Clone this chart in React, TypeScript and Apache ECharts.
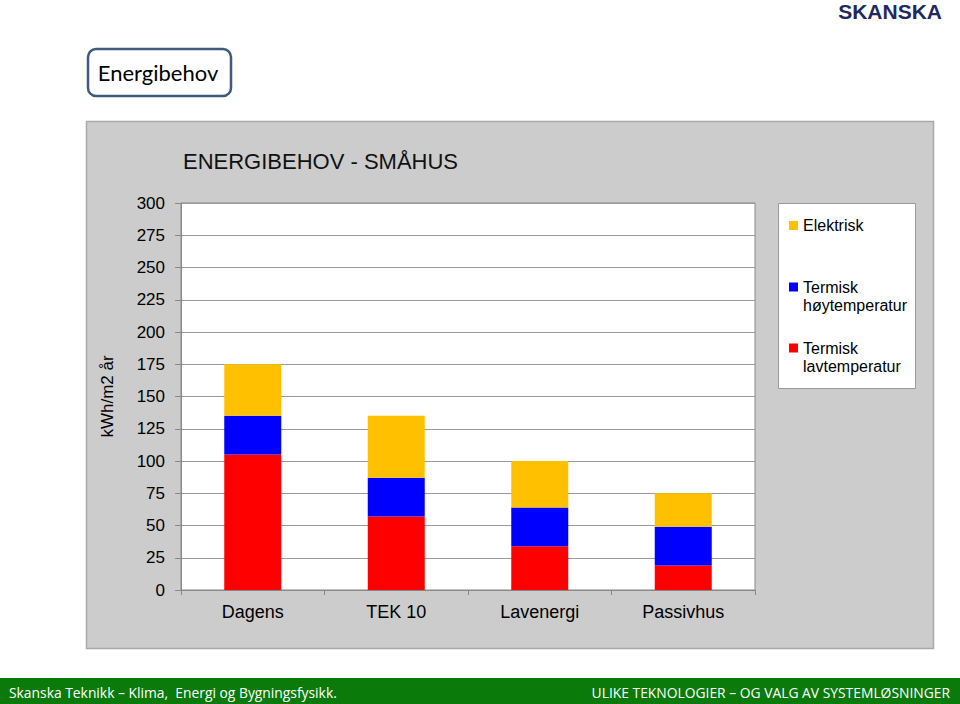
import React, { useEffect, useRef } from "react";
import * as echarts from "echarts";

const categories = ["Dagens", "TEK 10", "Lavenergi", "Passivhus"];
const lavtemperatur = [105, 57, 34, 19];
const hoytemperatur = [30, 30, 30, 30];
const elektrisk = [40, 48, 36, 26];
const seriesNames = ["Termisk lavtemperatur", "Termisk høytemperatur", "Elektrisk"];
const seriesColors = ["#ff0000", "#0000ff", "#ffc000"];
const chartTitle = "ENERGIBEHOV - SMÅHUS";
const yAxisName = "kWh/m2 år";
const slideTitle = "Energibehov";
const footerLeft = "Skanska Teknikk – Klima,  Energi og Bygningsfysikk.";
const footerRight = "ULIKE TEKNOLOGIER – OG VALG AV SYSTEMLØSNINGER";

const FONT = "'Liberation Sans', Arial, sans-serif";
const CAL = "'Open Sans', 'Noto Sans', sans-serif";

export default function App() {
  const ref = useRef<HTMLDivElement>(null);
  useEffect(() => {
    if (!ref.current) return;
    const chart = echarts.init(ref.current, null, { renderer: "svg" });
    const data = [lavtemperatur, hoytemperatur, elektrisk];
    const legendText = {
      fontFamily: FONT,
      fontSize: 16,
      color: "#000",
      lineHeight: 18,
    };
    chart.setOption({
      animation: false,
      backgroundColor: "#ffffff",
      title: {
        text: chartTitle,
        left: 183,
        top: 150,
        padding: 0,
        textStyle: { fontFamily: FONT, fontSize: 22, fontWeight: "normal", color: "#111" },
      },
      grid: {
        left: 181,
        right: 205,
        top: 203,
        bottom: 114,
        show: true,
        backgroundColor: "#ffffff",
        borderColor: "#888",
        borderWidth: 1,
        containLabel: false,
      },
      legend: [
        {
          data: ["Elektrisk"],
          orient: "vertical",
          left: 789,
          top: 216.5,
          padding: 0,
          itemWidth: 9,
          itemHeight: 9,
          icon: "rect",
          selectedMode: false,
          textStyle: legendText,
        },
        {
          data: ["Termisk høytemperatur"],
          orient: "vertical",
          left: 789,
          top: 260,
          padding: 0,
          itemWidth: 9,
          itemHeight: 9,
          icon: "rect",
          selectedMode: false,
          formatter: () => " \nTermisk\nhøytemperatur",
          textStyle: legendText,
        },
        {
          data: ["Termisk lavtemperatur"],
          orient: "vertical",
          left: 789,
          top: 321,
          padding: 0,
          itemWidth: 9,
          itemHeight: 9,
          icon: "rect",
          selectedMode: false,
          formatter: () => " \nTermisk\nlavtemperatur",
          textStyle: legendText,
        },
      ],
      xAxis: {
        type: "category",
        data: categories,
        axisLine: { show: true, lineStyle: { color: "#888", width: 1 } },
        axisTick: { show: true, length: 5, lineStyle: { color: "#888" } },
        axisLabel: { fontFamily: FONT, fontSize: 18, color: "#000", margin: 13 },
      },
      yAxis: {
        type: "value",
        min: 0,
        max: 300,
        interval: 25,
        name: yAxisName,
        nameLocation: "middle",
        nameGap: 65,
        nameRotate: 90,
        nameTextStyle: { fontFamily: FONT, fontSize: 17, color: "#000" },
        axisLine: { show: true, lineStyle: { color: "#888", width: 1 } },
        axisTick: { show: true, length: 6, lineStyle: { color: "#888" } },
        axisLabel: { fontFamily: FONT, fontSize: 17, color: "#000", margin: 16 },
        splitLine: { show: true, lineStyle: { color: "#999", width: 1 } },
      },
      series: seriesNames.map((name, i) => ({
        name,
        type: "bar",
        stack: "total",
        barWidth: 57,
        data: data[i],
        itemStyle: { color: seriesColors[i] },
      })),
      graphic: [
        {
          type: "rect",
          z: -10,
          silent: true,
          shape: { x: 86.5, y: 121.5, width: 847, height: 527 },
          style: { fill: "#cccccc", stroke: "#a8a8a8", lineWidth: 1.5 },
        },
        {
          type: "rect",
          z: -5,
          silent: true,
          shape: { x: 778.5, y: 203.5, width: 137, height: 185 },
          style: { fill: "#ffffff", stroke: "#999999", lineWidth: 1 },
        },
        {
          type: "rect",
          silent: true,
          shape: { x: 88, y: 49, width: 143, height: 47, r: 8 },
          style: { fill: "#ffffff", stroke: "#3e5a7e", lineWidth: 2.5 },
        },
        {
          type: "text",
          silent: true,
          x: 158,
          y: 72.5,
          style: {
            text: slideTitle,
            fontFamily: "Lato, 'Open Sans', sans-serif",
            fontSize: 22,
            fill: "#000",
            align: "center",
            verticalAlign: "middle",
          },
        },
        {
          type: "text",
          silent: true,
          x: 942,
          y: 11.5,
          style: {
            text: "SKANSKA",
            fontFamily: FONT,
            fontSize: 21,
            fontWeight: 900,
            fill: "#1f2860",
            align: "right",
            verticalAlign: "middle",
          },
        },
        {
          type: "rect",
          silent: true,
          shape: { x: 0, y: 678, width: 960, height: 26 },
          style: { fill: "#0a7a0a" },
        },
        {
          type: "text",
          silent: true,
          x: 9,
          y: 692,
          style: {
            text: footerLeft,
            fontFamily: CAL,
            fontSize: 13.85,
            fill: "#ffffff",
            align: "left",
            verticalAlign: "middle",
          },
        },
        {
          type: "text",
          silent: true,
          x: 950,
          y: 692,
          style: {
            text: footerRight,
            fontFamily: CAL,
            fontSize: 13.85,
            fill: "#ffffff",
            align: "right",
            verticalAlign: "middle",
          },
        },
      ],
    });
    return () => chart.dispose();
  }, []);
  return (
    <div
      ref={ref}
      style={{ position: "absolute", left: 0, top: 0, width: 960, height: 704 }}
    />
  );
}
